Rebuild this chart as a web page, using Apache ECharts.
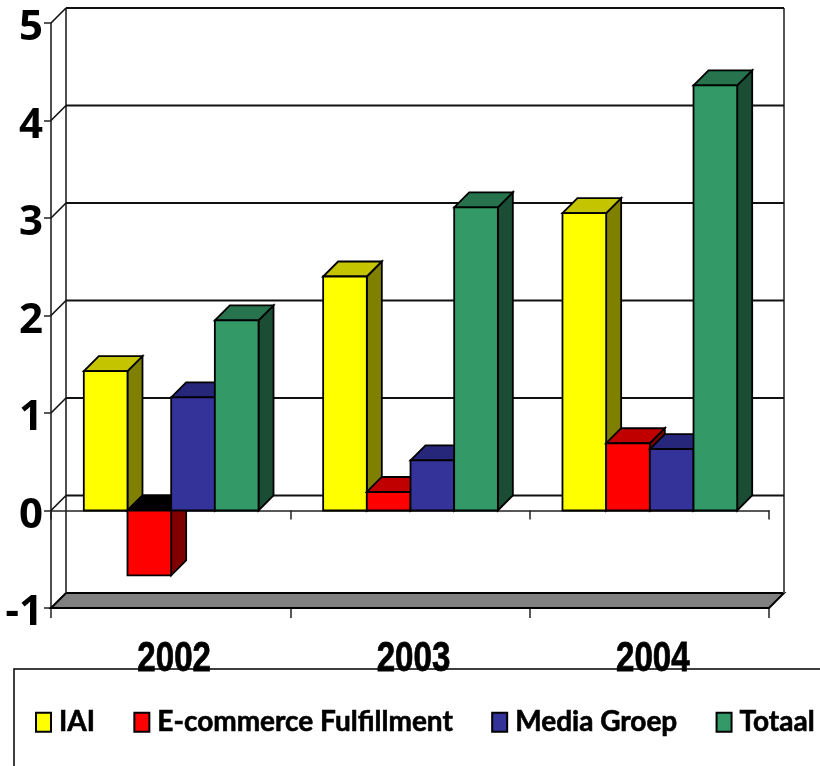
<!DOCTYPE html>
<html>
<head>
<meta charset="utf-8">
<style>html,body{margin:0;padding:0;background:#fff}#c{width:820px;height:766px}</style>
<script src="https://cdn.jsdelivr.net/npm/echarts@6/dist/echarts.min.js"></script>
</head>
<body>
<div id="c"></div>
<script>
const categories = ['2002', '2003', '2004'];
const seriesNames = ['IAI', 'E-commerce Fulfillment', 'Media Groep', 'Totaal'];
const iai = [1.43, 2.40, 3.05];
const ecommerce = [-0.665, 0.19, 0.69];
const media = [1.16, 0.515, 0.63];
const totaal = [1.95, 3.11, 4.36];
const yTicks = [-1, 0, 1, 2, 3, 4, 5];

const seriesValues = [iai, ecommerce, media, totaal];
const frontColors = ['#FFFF00', '#FF0000', '#333399', '#339966'];
const topColors = ['#C4C400', '#C00000', '#26267A', '#26734D'];
const sideColors = ['#808000', '#800000', '#1A1A4D', '#1A4D33'];
const DX = 15, DY = -15, BAR_FRAC = 0.1825, EDGE = 1.8;

const chart = echarts.init(document.getElementById('c'), null, {renderer: 'canvas', width: 820, height: 766});

function poly(points, fill, stroke, lw) {
  return {type: 'polygon', shape: {points}, style: {fill, stroke: stroke || '#000', lineWidth: lw || EDGE, lineJoin: 'miter'}};
}
function line(x1, y1, x2, y2, stroke, lw) {
  return {type: 'line', shape: {x1, y1, x2, y2}, style: {stroke: stroke || '#000', lineWidth: lw || 1.6}};
}

function renderWall(params, api) {
  const v = api.value(0);
  const cs = params.coordSys;
  const y = api.coord([0, v])[1];
  const x0 = cs.x, x1 = cs.x + cs.width;
  const kids = [];
  const top = cs.y, bot = cs.y + cs.height;
  if (v === -1) {
    kids.push(poly([[x0, y], [x0 + DX, y + DY], [x1 + DX, y + DY], [x1, y]], '#808080', '#000', 2));
    kids.push(line(x0 + DX, top + DY, x0 + DX, bot + DY, '#222', 1.6));
    kids.push(line(x1 + DX, top + DY, x1 + DX, bot + DY, '#555', 2));
  } else {
    kids.push(line(x0, y, x0 + DX, y + DY, '#111', 1.6));
    kids.push(line(x0 + DX, y + DY, x1 + DX, y + DY, '#111', 1.8));
  }
  return {type: 'group', children: kids};
}

function makeBarRenderer(si) {
  return function (params, api) {
    const idx = api.value(0), val = api.value(1);
    const band = api.size([1, 0])[0];
    const w = band * BAR_FRAC;
    const cx = api.coord([idx, 0])[0];
    const xl = cx + (si - 2) * w + 0.5, xr = xl + w;
    const y0 = api.coord([idx, 0])[1], yv = api.coord([idx, val])[1];
    const yt = Math.min(y0, yv), yb = Math.max(y0, yv);
    return {type: 'group', children: [
      poly([[xr, yt], [xr + DX, yt + DY], [xr + DX, yb + DY], [xr, yb]], sideColors[si]),
      poly([[xl, yt], [xl + DX, yt + DY], [xr + DX, yt + DY], [xr, yt]], val < 0 ? '#000000' : topColors[si]),
      poly([[xl, yt], [xr, yt], [xr, yb], [xl, yb]], frontColors[si])
    ]};
  };
}

function renderYear(params, api) {
  const idx = api.value(0);
  const p = api.coord([idx, -1]);
  return {type: 'text', x: p[0] + 3.5, y: p[1] + 51.5, scaleX: 0.77, scaleY: 1,
    style: {text: categories[idx], fontFamily: 'Liberation Sans', fontWeight: 'bold', fontSize: 43,
      fill: '#000', stroke: '#000', lineWidth: 0.8, textAlign: 'center', textVerticalAlign: 'middle'}};
}

chart.setOption({
  animation: false,
  backgroundColor: '#fff',
  grid: {left: 51, right: 51, top: 23, bottom: 158, containLabel: false},
  legend: {
    show: true,
    data: seriesNames,
    left: 14, top: 669, width: 1000,
    padding: [39, 60, 60, 21],
    orient: 'horizontal',
    itemWidth: 15, itemHeight: 19, itemGap: 38,
    borderColor: '#000', borderWidth: 1.5,
    icon: 'rect',
    textStyle: {fontFamily: 'Lato', fontWeight: 'bold', fontSize: 28, color: '#000', padding: [0, 0, 0, 3],
      textBorderColor: '#000', textBorderWidth: 0.6}
  },
  xAxis: [
    {type: 'category', data: categories, position: 'bottom', gridIndex: 0,
     axisLine: {onZero: false, lineStyle: {color: '#000', width: 2}},
     axisTick: {show: true, length: 10, lineStyle: {color: '#222', width: 1.5}},
     axisLabel: {show: false},
     splitLine: {show: false}},
    {type: 'category', data: categories, position: 'bottom', gridIndex: 0,
     axisLine: {onZero: true, onZeroAxisIndex: 0, lineStyle: {color: '#222', width: 1.6}},
     axisTick: {show: true, length: 9, lineStyle: {color: '#222', width: 1.5}},
     axisLabel: {show: false},
     splitLine: {show: false}}
  ],
  yAxis: {
    type: 'value', min: -1, max: 5, interval: 1,
    axisLine: {show: true, lineStyle: {color: '#222', width: 1.6}},
    axisTick: {show: true, length: 7, lineStyle: {color: '#222', width: 1.5}},
    splitLine: {show: false},
    axisLabel: {
      fontFamily: 'Noto Sans', fontWeight: 'bold', fontSize: 42, color: '#000', margin: 8,
      verticalAlign: 'top', lineHeight: 11,
      customValues: yTicks
    }
  },
  series: [
    {type: 'custom', name: 'wall', coordinateSystem: 'cartesian2d', xAxisIndex: 0, z: 1, clip: false, silent: true,
     encode: {y: 0}, renderItem: renderWall, data: yTicks.map(v => [v])},
    {type: 'custom', name: 'years', coordinateSystem: 'cartesian2d', xAxisIndex: 0, z: 2, clip: false, silent: true,
     encode: {x: 0}, renderItem: renderYear, data: categories.map((c, i) => [i])}
  ].concat(seriesNames.map((name, si) => ({
    type: 'custom', name, coordinateSystem: 'cartesian2d', xAxisIndex: 0, z: 3 + si, clip: false,
    itemStyle: {color: frontColors[si], borderColor: '#000', borderWidth: 1.5},
    encode: {x: 0, y: 1},
    renderItem: makeBarRenderer(si),
    data: categories.map((c, i) => [i, seriesValues[si][i]])
  })))
});
</script>
</body>
</html>
